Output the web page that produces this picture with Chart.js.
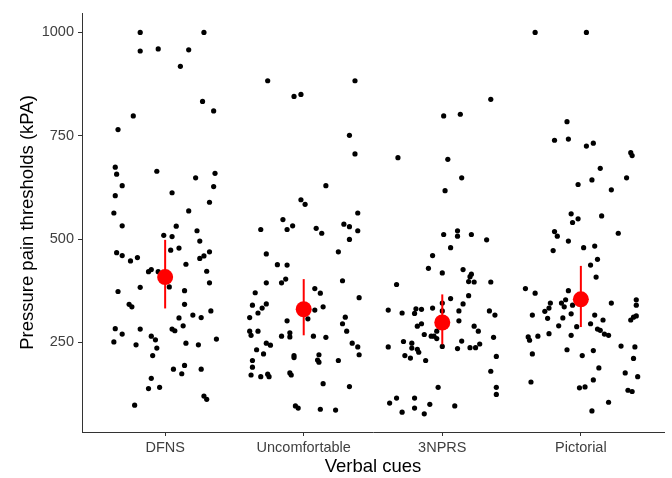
<!DOCTYPE html>
<html>
<head>
<meta charset="utf-8">
<script src="https://cdn.jsdelivr.net/npm/chart.js@4/dist/chart.umd.min.js"></script>
<style>
html,body{margin:0;padding:0;background:#fff;}
#wrap{width:672px;height:478px;position:relative;}
</style>
</head>
<body>
<div id="wrap"><canvas id="c" width="672" height="478"></canvas></div>
<script>
const categories = ["DFNS", "Uncomfortable", "3NPRS", "Pictorial"];
const yTicks = [250, 500, 750, 1000];

const dfnsValues = [1000,1000,955,960,958,918,833,810,798,765,674,657,664,629,648,659,605,612,627,589,563,568,532,531,509,506,520,495,473,478,467,460,455,447,469,459,453,439,421,426,421,422,373,383,384,375,394,342,336,342,326,309,316,310,290,283,270,282,282,278,248,244,258,251,244,265,256,236,218,185,174,194,185,163,138,141,120,112,98];
const dfnsJitter = [-0.18,0.28,-0.18,-0.05,0.17,0.11,0.27,0.35,-0.23,-0.34,-0.36,-0.35,-0.06,-0.31,0.22,0.36,-0.36,0.05,0.35,0.32,-0.37,0.17,-0.31,0.08,-0.01,0.05,0.23,0.25,0.04,0.10,-0.35,-0.31,-0.20,-0.25,0.32,0.28,0.25,0.15,-0.12,-0.10,-0.05,0.30,-0.34,-0.18,0.03,0.14,0.32,-0.26,-0.24,0.14,0.33,0.10,0.20,0.26,0.13,-0.36,-0.31,-0.18,0.05,0.07,0.15,0.24,0.37,-0.37,-0.21,-0.10,-0.07,-0.06,-0.09,0.06,0.12,0.14,0.26,-0.10,-0.12,-0.04,0.28,0.30,-0.22];

const uncomfValues = [883,883,845,850,751,706,629,595,584,547,563,523,523,532,526,536,530,520,514,499,464,469,438,437,394,394,403,399,370,380,369,358,340,333,343,336,310,321,328,307,302,311,295,277,267,277,273,263,265,277,265,262,248,243,232,222,248,239,220,206,190,171,167,173,167,218,213,220,207,202,206,176,171,150,143,96,91,88,86];
const uncomfJitter = [-0.26,0.37,-0.07,-0.02,0.33,0.37,0.16,-0.02,0.01,-0.15,0.39,-0.31,-0.12,-0.08,0.09,0.29,0.33,0.39,0.13,0.33,-0.27,0.25,-0.19,-0.12,-0.27,-0.16,-0.13,0.28,-0.35,0.08,0.12,0.40,-0.37,-0.30,-0.27,0.14,-0.39,-0.33,0.08,0.03,-0.12,0.30,0.28,-0.39,-0.38,-0.33,-0.10,-0.10,-0.16,0.31,0.07,0.16,-0.27,-0.24,-0.34,-0.29,0.35,0.39,0.40,-0.37,-0.37,-0.38,-0.31,-0.26,-0.25,-0.07,-0.07,0.11,0.10,0.11,0.25,-0.10,-0.09,0.14,0.33,-0.06,-0.04,0.12,0.23];

const nprsValues = [838,798,802,697,693,648,617,511,520,507,511,498,479,460,390,429,418,426,415,409,397,396,396,363,356,345,343,328,321,320,331,330,333,326,326,326,316,303,302,289,295,289,277,277,269,265,265,259,262,253,246,252,248,239,236,233,226,240,235,237,237,218,212,206,216,180,141,141,124,103,115,115,81,91,77,100,96];
const nprsJitter = [0.35,0.01,0.13,-0.32,0.04,0.14,0.02,0.01,0.11,0.11,0.21,0.32,0.06,-0.07,-0.33,-0.10,0.00,0.15,0.21,0.20,0.19,0.23,0.35,0.19,0.06,0.00,0.15,-0.39,-0.29,-0.20,-0.19,-0.15,-0.07,0.00,0.12,0.34,0.38,0.02,0.12,-0.18,-0.15,0.23,0.26,-0.04,-0.13,-0.08,-0.06,-0.04,0.37,0.14,0.27,-0.28,-0.22,-0.39,-0.22,-0.18,-0.17,0.00,0.11,0.20,0.24,-0.27,-0.23,-0.12,0.39,0.35,-0.03,0.39,0.39,-0.38,-0.33,-0.20,-0.29,-0.20,-0.13,-0.09,0.09];

const pictValues = [1000,1000,784,739,742,725,732,709,702,671,643,632,648,619,561,549,540,556,518,507,495,514,472,479,483,451,437,408,380,369,375,345,345,353,336,340,325,333,316,308,309,319,345,316,304,353,340,314,311,304,290,271,295,288,282,279,270,267,267,263,255,265,232,230,218,241,239,211,222,188,176,167,159,154,140,142,134,131,105,84];
const pictJitter = [-0.33,0.04,-0.10,-0.19,-0.09,0.04,0.09,0.36,0.37,0.14,0.08,-0.02,0.33,0.22,-0.07,-0.02,-0.06,0.15,-0.19,-0.17,-0.09,0.27,-0.20,0.02,0.10,0.12,0.07,0.11,-0.40,-0.33,-0.09,-0.22,-0.14,-0.11,-0.12,-0.06,-0.26,-0.23,-0.35,-0.24,-0.13,-0.07,0.22,0.10,0.16,0.40,0.40,0.40,0.38,0.36,-0.16,-0.23,0.07,-0.03,0.12,0.14,0.17,0.20,-0.07,-0.38,-0.37,-0.31,-0.10,0.09,0.01,0.29,0.39,0.38,-0.35,0.13,0.32,0.41,0.09,-0.36,-0.01,0.03,0.34,0.37,0.20,0.08];

const means = [408, 330, 298, 354];
const lowers = [332, 267, 245, 287];
const uppers = [498, 403, 366, 435];

const groupValues = [dfnsValues, uncomfValues, nprsValues, pictValues];
const groupJitter = [dfnsJitter, uncomfJitter, nprsJitter, pictJitter];

const rawPoints = [];
groupValues.forEach((vals, gi) => {
  vals.forEach((v, i) => rawPoints.push({x: gi + 1 + groupJitter[gi][i], y: v}));
});

const datasets = [{
  type: 'scatter',
  data: rawPoints,
  backgroundColor: '#000000',
  borderWidth: 0,
  pointRadius: 2.6,
  order: 3
}];
categories.forEach((c, i) => {
  datasets.push({
    type: 'line',
    data: [{x: i + 1, y: lowers[i]}, {x: i + 1, y: uppers[i]}],
    borderColor: '#FF0000',
    borderWidth: 2,
    pointRadius: 0,
    fill: false,
    order: 2
  });
});
datasets.push({
  type: 'scatter',
  data: means.map((m, i) => ({x: i + 1, y: m})),
  backgroundColor: '#FF0000',
  borderWidth: 0,
  pointRadius: 8,
  order: 1
});

const tickFont = {family: '"Liberation Sans", Arial, sans-serif', size: 14.5};
const titleFont = {family: '"Liberation Sans", Arial, sans-serif', size: 18.5};

new Chart(document.getElementById('c'), {
  type: 'scatter',
  data: {datasets},
  options: {
    responsive: false,
    animation: false,
    layout: {padding: {top: 13, right: 0, left: 0, bottom: 0}},
    plugins: {legend: {display: false}, tooltip: {enabled: false}},
    scales: {
      x: {
        type: 'linear',
        min: 0.4,
        max: 4.6,
        afterBuildTicks: s => { s.ticks = categories.map((c, i) => ({value: i + 1})); },
        afterFit: s => { s.height = 46; },
        ticks: {
          callback: (v) => categories[Math.round(v) - 1] || '',
          color: '#404040',
          font: tickFont,
          padding: 3,
          maxRotation: 0,
          autoSkip: false
        },
        grid: {drawOnChartArea: false, drawTicks: true, tickLength: 4, color: '#333333', lineWidth: 1},
        border: {display: true, color: '#333333', width: 1},
        title: {display: true, text: 'Verbal cues', color: '#000000', font: titleFont, padding: {top: 0, bottom: 0}}
      },
      y: {
        type: 'linear',
        min: 33,
        max: 1047,
        afterBuildTicks: s => { s.ticks = yTicks.map(v => ({value: v})); },
        afterFit: s => { s.width = 82; },
        ticks: {color: '#404040', font: tickFont, padding: 4, callback: v => String(v)},
        grid: {drawOnChartArea: false, drawTicks: true, tickLength: 4, color: '#333333', lineWidth: 1},
        border: {display: true, color: '#333333', width: 1},
        title: {display: true, text: 'Pressure pain thresholds (kPA)', color: '#000000', font: titleFont, padding: {top: 17, bottom: 0}}
      }
    }
  }
});
</script>
</body>
</html>
